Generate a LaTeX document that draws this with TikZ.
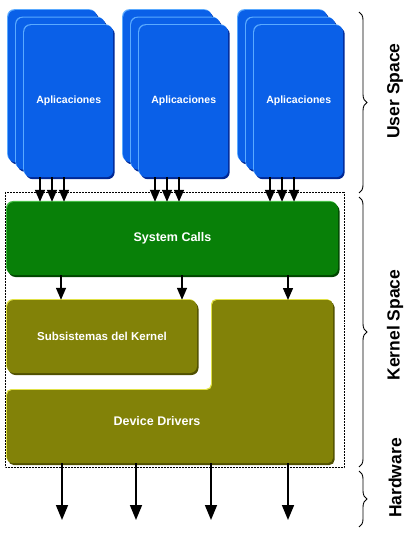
\documentclass[tikz,border=0pt]{standalone}
\usepackage{fontspec}
\setmainfont{Liberation Sans}
\usetikzlibrary{arrows.meta,decorations.pathreplacing}
\definecolor{appblue}{RGB}{10,96,232}
\definecolor{appdark}{RGB}{0,40,150}
\definecolor{applight}{RGB}{90,170,255}
\definecolor{sysgreen}{RGB}{8,128,8}
\definecolor{sysdark}{RGB}{0,70,0}
\definecolor{syslight}{RGB}{70,190,70}
\definecolor{kolive}{RGB}{130,130,8}
\definecolor{kolivedark}{RGB}{80,80,0}
\definecolor{kolivelight}{RGB}{225,225,70}
\begin{document}
\begin{tikzpicture}[x=1pt,y=-1pt,
  arr/.style={line width=1.4pt,-{Triangle[width=10pt,length=12pt]}},
  bigarr/.style={line width=1.6pt,-{Triangle[width=12pt,length=15pt]}},
  bevel/.style n args={3}{fill=#1,
    preaction={fill=#2,transform canvas={shift={(1.5pt,-2pt)}}},
    preaction={fill=#3,transform canvas={shift={(-1pt,1pt)}}}},
  card/.style={bevel={appblue}{appdark}{applight},rounded corners=7pt,
    minimum width=89pt,minimum height=152pt,inner sep=0pt,anchor=north west,
    text=white,font=\bfseries\fontsize{10.5}{12}\selectfont},
  box/.style={rounded corners=7pt,inner sep=0pt,text=white,
    font=\bfseries\fontsize{12.5}{14}\selectfont},
  lbl/.style={rotate=90,font=\bfseries\fontsize{17.5}{20}\selectfont},
  brc/.style={decorate,decoration={brace,amplitude=8pt},line width=0.9pt}]
\useasboundingbox (0,0) rectangle (414,537);

% aplicaciones, tres pilas de tres
\foreach \s in {0,1,2}{
  \foreach \c in {0,1}
    \node[card] (app\s-\c) at (8+115*\s+8*\c,10+7.5*\c) {};
  \node[card] (app\s-2) at (24+115*\s,25) {Aplicaciones};
}

% kernel space
\draw[densely dotted,line width=0.5pt] (5,192) rectangle (344,467);

\node[box,bevel={sysgreen}{sysdark}{syslight},minimum width=331pt,
  minimum height=73pt] (sys) at (172.5,238.5) {System Calls};

\foreach \s in {0,1,2}
  \foreach \d in {16,28,40}{
    \coordinate (t) at ([xshift=\d pt]app\s-2.south west);
    \draw[arr] (t) -- (t |- sys.north);
  }

\node[box,bevel={kolive}{kolivedark}{kolivelight},minimum width=190pt,
  minimum height=73pt,font=\bfseries\fontsize{11.5}{13}\selectfont] (sub)
  at (102,336.5) {Subsistemas del Kernel};

\path[bevel={kolive}{kolivedark}{kolivelight},rounded corners=5pt]
  (7,390) -- (212,390) -- (212,300) -- (333,300) -- (333,463) -- (7,463) -- cycle;
\node[box] (drv) at (157,421) {Device Drivers};
\coordinate (drvtop) at (272,300);
\coordinate (drvbot) at (170,463);

\foreach \x/\t in {61/sub.north,182/sub.north,288/drvtop}
  \draw[arr] (\x,0 |- sys.south) -- (\x,0 |- \t);

% hardware
\foreach \x [count=\i] in {62,136,211,288}{
  \coordinate (hw\i) at (\x,520);
  \draw[bigarr] (hw\i |- drvbot) -- (hw\i);
}

% llaves
\draw[brc] (359,12) -- (359,193);
\draw[brc] (359,197) -- (359,467);
\draw[brc] (359,471) -- (359,527);
\node[lbl] (user) at (395,91) {User Space};
\node[lbl] (kern) at (395,325) {Kernel Space};
\node[lbl] (hard) at (395,478) {Hardware};
\end{tikzpicture}
\end{document}
